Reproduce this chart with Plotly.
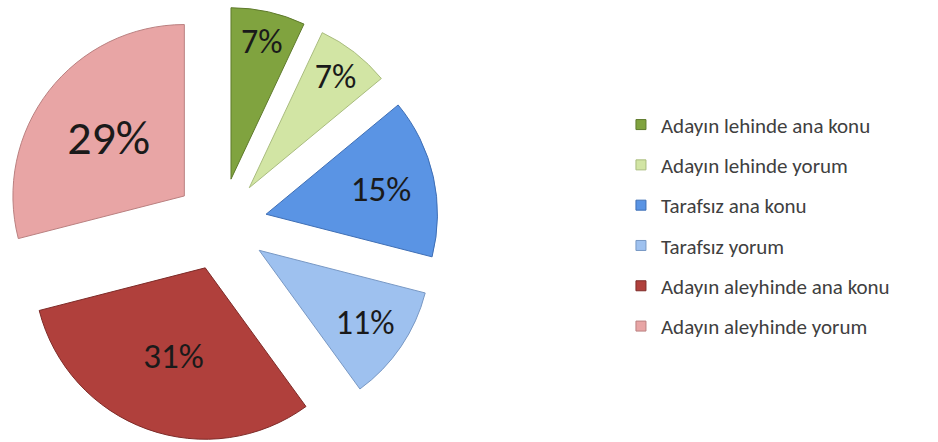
import plotly.graph_objects as go

categories = ["Adayın lehinde ana konu", "Adayın lehinde yorum", "Tarafsız ana konu",
              "Tarafsız yorum", "Adayın aleyhinde ana konu", "Adayın aleyhinde yorum"]
values = [7, 7, 15, 11, 31, 29]
colors = ["#80A33F", "#D2E5A4", "#5A94E4", "#9EC1EF", "#B0403C", "#E8A5A5"]
edge_colors = ["#5E7A2C", "#A9BC7E", "#3F6FB5", "#7898C4", "#7E2B28", "#BA8080"]
label_sizes = [34, 34, 35, 34, 35, 48]

FONT = "Carlito, Lato, Open Sans, sans-serif"

fig = go.Figure()
fig.add_trace(go.Pie(
    labels=categories,
    values=values,
    sort=False,
    direction="clockwise",
    rotation=0,
    pull=[0.27] * len(values),
    marker=dict(colors=colors, line=dict(color=edge_colors, width=1)),
    texttemplate="%{percent:.0%}",
    textposition="inside",
    insidetextorientation="horizontal",
    textfont=dict(family=FONT, size=label_sizes, color="#1a1a1a"),
    showlegend=False,
    hoverinfo="label+percent",
    domain=dict(x=[0, 0.471], y=[0, 0.985]),
))

for name, c, ec in zip(categories, colors, edge_colors):
    fig.add_trace(go.Scatter(
        x=[None], y=[None], mode="markers", name=name, legendgroup=name,
        marker=dict(symbol="square", size=10, color=c, line=dict(color=ec, width=1)),
    ))

fig.update_layout(
    width=938, height=442,
    margin=dict(l=0, r=0, t=0, b=0),
    paper_bgcolor="white", plot_bgcolor="white",
    xaxis=dict(visible=False), yaxis=dict(visible=False),
    legend=dict(
        x=0.662, y=0.49, xanchor="left", yanchor="middle",
        font=dict(family=FONT, size=21, color="#404040"),
        tracegroupgap=10, itemwidth=30,
        bgcolor="rgba(0,0,0,0)",
    ),
)

fig.write_html("out.html")
